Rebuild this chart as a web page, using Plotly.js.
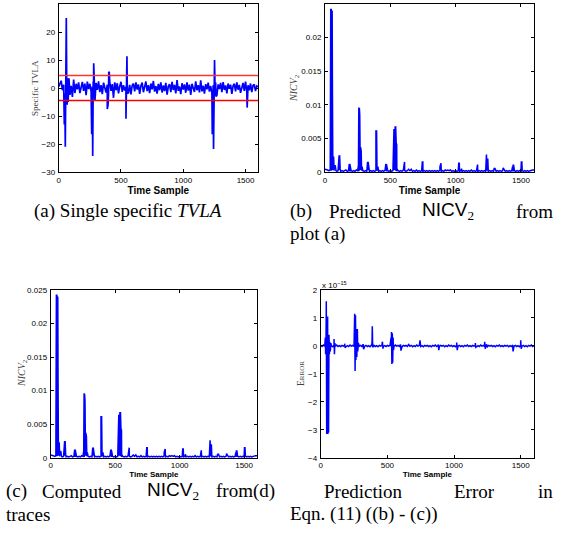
<!DOCTYPE html>
<html>
<head>
<meta charset="utf-8">
<script src="https://cdn.plot.ly/plotly-3.0.1.min.js"></script>
<style>
html,body{margin:0;padding:0;background:#fff;}
#chart{width:561px;height:535px;}
</style>
</head>
<body>
<div id="chart"></div>
<script>
// ---------------- DATA ----------------
// Sample step of the baseline arrays
var baseStep = 10;
// (a) specific TVLA, baseline noise every 10 samples (0..1600)
var tvlaBase = [0.5,1.8,2.6,-0.8,1.2,-2.0,3.0,-1.5,3.5,-2.5,0.8,-3.2,3.0,-1.8,1.5,-0.5,2.0,-1.8,0.9,2.2,
-1.0,1.6,-2.6,2.3,-0.4,1.5,-1.2,0.5,2.0,-3.0,1.8,-0.7,2.4,-1.5,1.0,-2.2,1.9,0.3,-1.6,1.2,
-2.0,2.1,-1.0,1.4,-3.5,2.0,-0.8,1.7,-1.9,0.6,2.2,-1.4,1.0,-0.9,0.4,1.8,-1.7,1.1,-2.3,0.9,
1.6,-1.2,2.0,-0.6,1.3,-2.1,0.8,1.9,-1.5,0.2,2.3,-1.1,1.0,-1.8,1.6,-0.5,2.5,-1.3,0.7,-2.0,
1.5,-0.8,2.0,-1.6,0.9,-1.1,1.8,-2.4,0.6,1.4,-1.5,2.2,-0.7,1.1,-1.9,2.8,-1.0,0.5,-2.2,1.7,
-0.6,1.3,-1.7,2.0,-0.9,1.2,-2.5,1.5,0.3,-1.4,2.4,-0.8,1.0,-1.6,2.7,-1.2,0.8,-2.0,1.4,-0.5,
1.9,-1.3,0.7,-1.8,1.0,-0.9,2.0,-2.6,1.3,-0.4,1.8,-1.5,2.1,-0.7,0.9,-1.9,1.6,-0.3,1.2,-2.1,
0.8,1.5,-1.2,2.0,-0.6,1.1,-1.7,0.5,1.8,-1.0,2.3,-1.4,1.0,-0.8,1.6,-1.5,0.9,1.3,-1.1,0.7,0.4];
var tvlaSpikeX = [45,50,53,57,61,65,68,72,76,83, 262,265,273,277,281,285,291, 390,396,402,406, 540,544,548,552, 1233,1238,1243,1247,1251,1256,1262, 1513];
var tvlaSpikeY = [-13,-8,-21,5,25,-3,-6,3.5,-5,3, -6,-16.5,-24.3,2,8.8,-4,-4.5, -7.5,-6,5.8,5.5, -11,-3,11.3,-2, -16.5,-8,-21.8,0,10,-2,-3, -7];
var tvlaThreshold = 4.5;

// (b)/(c) NICV2, baseline every 10 samples
var nicvBase = [0.0004,0.0004,0.0003,0.0002,0.0003,0.0002,0.0003,0.0002,0.0003,0.0001,0.0002,0.0003,0.0001,0.0002,0.0001,0.0002,0.0003,0.0001,0.0002,0.0001,
0.0002,0.0001,0.0002,0.0001,0.0003,0.0002,0.0001,0.0003,0.0002,0.0002,0.0001,0.0002,0.0001,0.0003,0.0001,0.0002,0.0001,0.0002,0.0001,0.0002,
0.0002,0.0001,0.0002,0.0001,0.0002,0.0001,0.0003,0.0001,0.0002,0.0001,0.0002,0.0001,0.0002,0.0003,0.0002,0.0001,0.0002,0.0001,0.0002,0.0001,
0.0003,0.0002,0.0001,0.0002,0.0004,0.0002,0.0004,0.0001,0.0002,0.0001,0.0003,0.0001,0.0002,0.0001,0.0002,0.0001,0.0002,0.0001,0.0002,0.0001,
0.0002,0.0001,0.0002,0.0001,0.0002,0.0001,0.0002,0.0001,0.0003,0.0001,0.0002,0.0001,0.0003,0.0002,0.0003,0.0002,0.0003,0.0001,0.0002,0.0001,
0.0002,0.0001,0.0002,0.0001,0.0002,0.0001,0.0002,0.0001,0.0002,0.0001,0.0002,0.0001,0.0003,0.0001,0.0002,0.0001,0.0002,0.0001,0.0002,0.0001,
0.0002,0.0001,0.0002,0.0001,0.0002,0.0001,0.0002,0.0001,0.0002,0.0001,0.0004,0.0001,0.0002,0.0001,0.0002,0.0001,0.0002,0.0004,0.0001,0.0002,
0.0001,0.0002,0.0001,0.0002,0.0001,0.0002,0.0001,0.0002,0.0001,0.0002,0.0001,0.0002,0.0001,0.0002,0.0001,0.0002,0.0001,0.0002,0.0003,0.0003,0.0003];
var nicvSpikeX = [44,48,52,55,57,60,62,66,70,78,84, 108,112,116, 186,190, 256,259,263,266,268,272,277,280,284, 326,330, 390,395,398,405, 466,470,
528,533,537,541,545,549,552, 602,605,609, 745,749, 880,884,888, 1024,1028,1045, 1164,1168, 1232,1236,1241,1246, 1296,1300, 1364, 1436,1440,1444, 1503,1507];
var nicvSpikeY = [0.0242,0.0242,0.024,0.0239,0.0118,0.0118,0.0022,0.0022,0.0008,0.001,0.0002, 0.0025,0.0025,0.0005, 0.0012,0.0012,
0.001,0.0096,0.0095,0.0085,0.0038,0.0037,0.0032,0.0032,0.0008, 0.0015,0.0015, 0.0061,0.0061,0.0007,0.0008, 0.0012,0.0012,
0.0064,0.0064,0.0068,0.0068,0.0043,0.0041,0.0004, 0.0008,0.0015,0.0015, 0.0015,0.0015, 0.0008,0.0013,0.0013, 0.0013,0.0013,0.0005,
0.0011,0.0011, 0.0026,0.0026,0.002,0.002, 0.0006,0.0006, 0.0006, 0.0008,0.001,0.001, 0.0015,0.0015];

// (d) prediction error, in units of 1e-15
var errBase = [0.02,-0.02,0.03,-0.01,0.02,-0.03,0.02,-0.02,0.01,-0.03,0.02,-0.01,0.03,-0.02,0.01,-0.02,0.02,-0.01,0.02,-0.03,
0.01,-0.02,0.03,-0.01,0.02,-0.02,0.01,-0.03,0.02,-0.01,0.02,-0.02,0.03,-0.01,0.02,-0.02,0.01,-0.03,0.02,-0.01,
0.02,-0.02,0.01,-0.03,0.02,-0.01,0.03,-0.02,0.01,-0.02,0.02,-0.01,0.02,-0.03,0.01,-0.02,0.03,-0.01,0.02,-0.02,
0.01,-0.03,0.02,-0.01,0.02,-0.02,0.05,-0.01,0.02,-0.03,0.01,-0.02,0.03,-0.01,0.02,-0.02,0.01,-0.03,0.02,-0.01,
0.02,-0.02,0.01,-0.03,0.02,-0.01,0.03,-0.02,0.01,-0.02,0.02,-0.01,0.02,-0.03,0.01,-0.02,0.03,-0.01,0.02,-0.02,
0.01,-0.03,0.02,-0.01,0.02,-0.02,0.01,-0.03,0.02,-0.01,0.03,-0.02,0.01,-0.02,0.02,-0.01,0.02,-0.03,0.01,-0.02,
0.03,-0.01,0.02,-0.02,0.01,-0.03,0.02,-0.01,0.02,-0.02,0.01,-0.03,0.02,-0.01,0.03,-0.02,0.01,-0.02,0.02,-0.01,
0.02,-0.03,0.01,-0.02,0.03,-0.01,0.02,-0.02,0.01,-0.03,0.02,-0.01,0.02,-0.02,0.01,-0.03,0.02,-0.01,0.03,-0.02,0.01];
var errSpikeX = [35,37,40,42,45,48,50,52,54,57,59,62,65,68,72,76, 100,103,106, 180,183,
252,255,258,261,264,268,271,275,278,282, 318,322, 385,387,390, 463,467, 528,531,534,537,540,543,546,
598,602, 660, 745,748, 883,886, 1020,1024, 1160,1164, 1230,1234,1245, 1443, 1500,1504];
var errSpikeY = [0.3,-0.3,0.2,1.6,-3.15,1.0,-3.15,1.05,-3.15,0.4,-3.1,0.4,-0.3,0.15,-0.2,0.1, 0.25,-0.3,0.1, 0.08,-0.06,
0.3,1.15,-0.9,1.1,-0.5,0.6,-0.4,0.6,-0.2,0.1, 0.06,-0.12, 0.1,0.7,-0.05, 0.15,-0.1, 0.3,0.5,-0.65,0.45,-0.6,0.3,-0.15,
0.05,-0.17, 0.05, 0.2,0.05, 0.05,-0.15, 0.12,-0.15, 0.1,-0.05, 0.15,-0.1,0.05, -0.2, 0.2,-0.1];

var xTicks = [0, 500, 1000, 1500];

// ---------------- BUILD ----------------
function merge(base, sx, sy) {
  var pts = [];
  for (var i = 0; i < base.length; i++) pts.push([i * baseStep, base[i]]);
  for (var j = 0; j < sx.length; j++) pts.push([sx[j], sy[j]]);
  pts.sort(function (a, b) { return a[0] - b[0]; });
  return { x: pts.map(function (p) { return p[0]; }), y: pts.map(function (p) { return p[1]; }) };
}
var tv = merge(tvlaBase, tvlaSpikeX, tvlaSpikeY);
var nv = merge(nicvBase, nicvSpikeX, nicvSpikeY);
var er = merge(errBase, errSpikeX, errSpikeY);

var blue = '#0000ff';
var lw = 1.5;
var traces = [
  { x: tv.x, y: tv.y, xaxis: 'x', yaxis: 'y', type: 'scatter', mode: 'lines', line: { color: blue, width: 1.7 } },
  { x: [0, 1600], y: [tvlaThreshold, tvlaThreshold], xaxis: 'x', yaxis: 'y', mode: 'lines', line: { color: '#ff3333', width: 1.5 } },
  { x: [0, 1600], y: [-tvlaThreshold, -tvlaThreshold], xaxis: 'x', yaxis: 'y', mode: 'lines', line: { color: '#ff0000', width: 1.5 } },
  { x: nv.x, y: nv.y, xaxis: 'x2', yaxis: 'y2', type: 'scatter', mode: 'lines', line: { color: blue, width: lw } },
  { x: nv.x, y: nv.y, xaxis: 'x3', yaxis: 'y3', type: 'scatter', mode: 'lines', line: { color: blue, width: lw } },
  { x: er.x, y: er.y, xaxis: 'x4', yaxis: 'y4', type: 'scatter', mode: 'lines', line: { color: blue, width: lw } }
];

var W = 561, H = 535;
function dx(a, b) { return [a / W, b / W]; }
function dy(top, bot) { return [1 - bot / H, 1 - top / H]; }
var tickFont = { family: 'Liberation Sans, Arial, sans-serif', size: 8, color: '#000' };
var titleFont = { family: 'Liberation Sans, Arial, sans-serif', size: 10, color: '#000', weight: 'bold' };
var titleFont2 = { family: 'Liberation Sans, Arial, sans-serif', size: 8, color: '#000', weight: 'bold' };

function xax(dom, anchor, tf, standoff) {
  return { domain: dom, anchor: anchor, range: [0, 1600], tickvals: xTicks, ticks: 'inside', ticklen: 3, tickcolor: '#000',
    mirror: 'ticks', showline: true, linecolor: '#000', linewidth: 1, showgrid: false, zeroline: false,
    tickfont: tickFont, automargin: false, title: { text: '<b>Time Sample</b>', font: tf, standoff: standoff } };
}
function yax(dom, anchor, range, dtick, fmt) {
  return { domain: dom, anchor: anchor, range: range, dtick: dtick, tick0: range[0], ticks: 'inside', ticklen: 3, tickcolor: '#000',
    mirror: 'ticks', showline: true, linecolor: '#000', linewidth: 1, showgrid: false, zeroline: false,
    tickfont: tickFont, automargin: false, tickformat: fmt, ticklabelstandoff: 1, minexponent: 10 };
}

var serif = 'Liberation Serif, Times New Roman, serif';
var capFont = { family: serif, size: 19, color: '#000' };
var sansCap = 'Liberation Sans, Arial, sans-serif';
function ann(text, px, py, xanchor, font, extra) {
  var a = { text: text, xref: 'paper', yref: 'paper', x: px / W, y: 1 - py / H, xanchor: xanchor, yanchor: 'middle', showarrow: false, font: font };
  if (extra) for (var k in extra) a[k] = extra[k];
  return a;
}
var nicvTxt = '<span style="font-family:' + sansCap + '">NICV</span><sub>2</sub>';
var annotations = [
  ann('(a) Single specific <i>TVLA</i>', 128, 211, 'center', capFont),
  ann('(b)', 288, 211, 'left', capFont),
  ann('Predicted', 327, 211, 'left', capFont),
  ann(nicvTxt, 420, 211, 'left', capFont),
  ann('from', 555, 211, 'right', capFont),
  ann('plot (a)', 288, 234, 'left', capFont),
  ann('(c)', 4, 491, 'left', capFont),
  ann('Computed', 40, 491, 'left', capFont),
  ann(nicvTxt, 145, 491, 'left', capFont),
  ann('from(d)', 214, 491, 'left', capFont),
  ann('Prediction', 322, 491, 'left', capFont),
  ann('Error', 452, 491, 'left', capFont),
  ann('in', 555, 491, 'right', capFont),
  ann('traces', 4, 514, 'left', capFont),
  ann('Eqn. (11) ((b) - (c))', 288, 514, 'left', capFont),
  // y-axis titles
  ann('Specific TVLA', 35, 88, 'center', { family: serif, size: 9, color: '#444' }, { textangle: -90 }),
  ann('<i>NICV</i><sub>2</sub>', 295, 88, 'center', { family: serif, size: 10, color: '#444' }, { textangle: -90 }),
  ann('<i>NICV</i><sub>2</sub>', 22, 373, 'center', { family: serif, size: 10, color: '#444' }, { textangle: -90 }),
  ann('E<span style="font-size:7px">RROR</span>', 301, 374, 'center', { family: serif, size: 9.5, color: '#444' }, { textangle: -90 }),
  ann('x 10<sup>−15</sup>', 320, 285, 'left', { family: sansCap, size: 8, color: '#000' })
];

var layout = {
  width: W, height: H, margin: { l: 0, r: 0, t: 0, b: 0 }, showlegend: false,
  paper_bgcolor: '#fff', plot_bgcolor: '#fff',
  xaxis: xax(dx(58.7, 258), 'y', titleFont, 1),
  yaxis: yax(dy(4, 172), 'x', [-30, 30], 10),
  xaxis2: xax(dx(325, 534), 'y2', titleFont, 1),
  yaxis2: yax(dy(4, 172), 'x2', [0, 0.025], 0.005),
  xaxis3: xax(dx(50.7, 257), 'y3', titleFont2, 0),
  yaxis3: yax(dy(290, 457.7), 'x3', [0, 0.025], 0.005),
  xaxis4: xax(dx(320.7, 534), 'y4', titleFont2, 0),
  yaxis4: yax(dy(290, 457.7), 'x4', [-4, 2], 1),
  annotations: annotations
};

Plotly.newPlot('chart', traces, layout, { staticPlot: true, displayModeBar: false });
</script>
</body>
</html>
